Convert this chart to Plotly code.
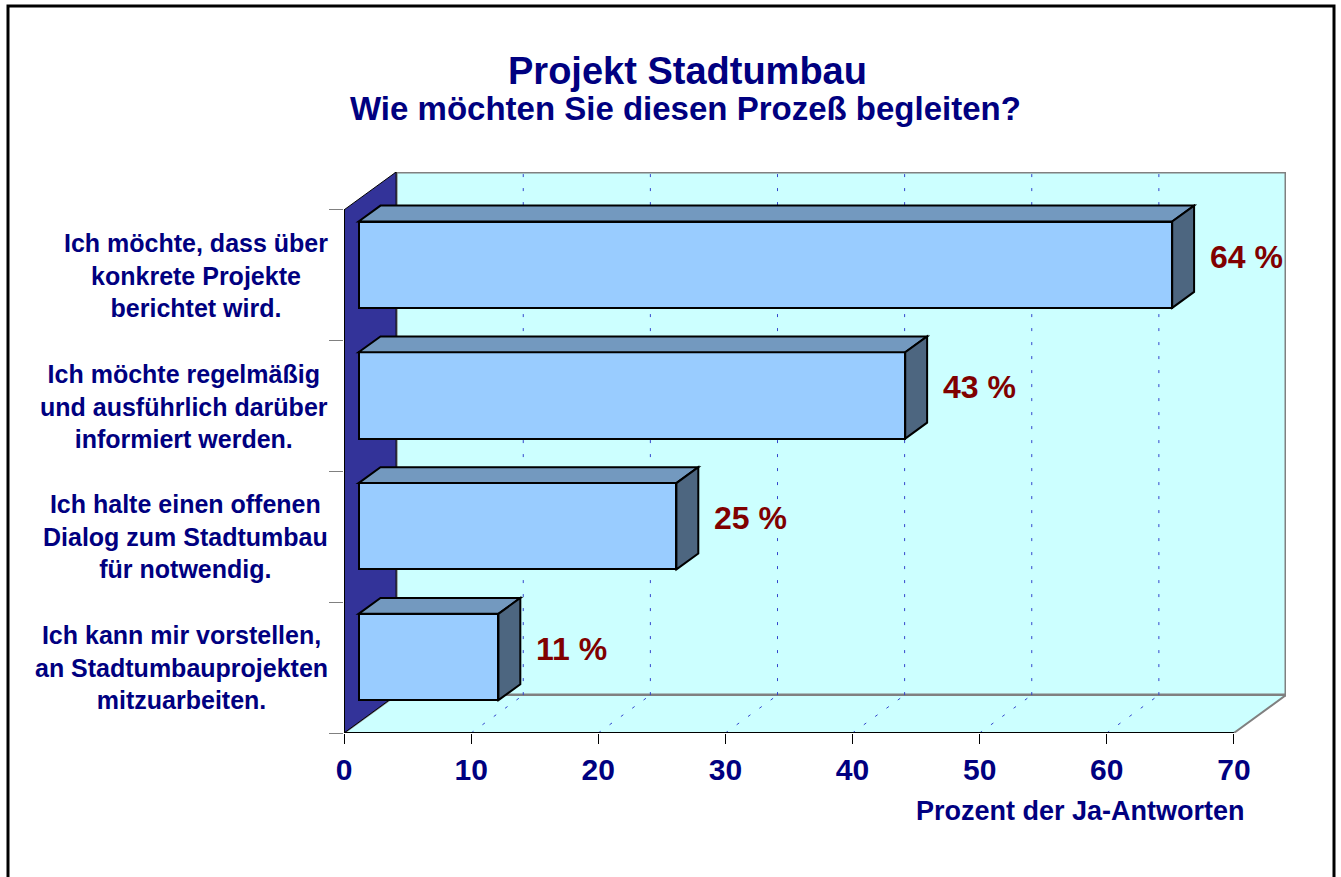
import plotly.graph_objects as go

# Survey answers, listed bottom to top
categories = [
    "Ich kann mir vorstellen,<br>an Stadtumbauprojekten<br>mitzuarbeiten.",
    "Ich halte einen offenen<br>Dialog zum Stadtumbau<br>für notwendig.",
    "Ich möchte regelmäßig<br>und ausführlich darüber<br>informiert werden.",
    "Ich möchte, dass über<br>konkrete Projekte<br>berichtet wird.",
]
values = [11, 25, 43, 64]
x_ticks = [0, 10, 20, 30, 40, 50, 60, 70]

title = "Projekt Stadtumbau"
subtitle = "Wie möchten Sie diesen Prozeß begleiten?"
x_title = "Prozent der Ja-Antworten"

# pseudo-3D geometry (depth offset of the back plane, in axis units)
X_MAX = 70
DX, DY = 4.1, 0.29
F1, F2 = 0.28, 0.70       # front / back depth fraction of the bars
BAR_W = 0.66

NAVY = "#000080"
DARK_RED = "#800000"
WALL = "#CCFFFF"
SIDE_WALL = "#333399"
EDGE = "#808080"
BAR_FRONT = "#99CCFF"
BAR_TOP = "#7399BF"
BAR_SIDE = "#4D6680"
GRID = "#3344CC"
FONT = "Arial, Liberation Sans, sans-serif"

W, H = 1341, 877
M_L, M_R, M_T, M_B = 344, 55, 172, 144
plot_w = W - M_L - M_R
plot_h = H - M_T - M_B


def px_x(px):
    return (px - M_L) / plot_w


def px_y(py):
    return (H - M_B - py) / plot_h


def path(points):
    return "M " + " L ".join(f"{x},{y}" for x, y in points) + " Z"


n = len(categories)
shapes = []

# back wall
shapes.append(dict(type="rect", xref="x", yref="y", layer="below",
                   x0=DX, x1=X_MAX + DX, y0=DY, y1=n + DY,
                   fillcolor=WALL, line=dict(color=EDGE, width=3)))
# floor
shapes.append(dict(type="path", xref="x", yref="y", layer="below",
                   path=path([(0, 0), (X_MAX, 0), (X_MAX + DX, DY), (DX, DY)]),
                   fillcolor=WALL, line=dict(color=EDGE, width=2)))
# left side wall
shapes.append(dict(type="path", xref="x", yref="y", layer="below",
                   path=path([(0, 0), (0, n), (DX, n + DY), (DX, DY)]),
                   fillcolor=SIDE_WALL, line=dict(color="#000000", width=1)))
# gridlines on the back wall and floor
for v in x_ticks[1:-1]:
    shapes.append(dict(type="line", xref="x", yref="y", layer="below",
                       x0=v + DX, x1=v + DX, y0=DY, y1=n + DY,
                       line=dict(color=GRID, width=1, dash="3px,11px")))
    shapes.append(dict(type="line", xref="x", yref="y", layer="below",
                       x0=v, x1=v + DX, y0=0, y1=DY,
                       line=dict(color=GRID, width=1, dash="3px,11px")))
# front axis lines
shapes.append(dict(type="line", xref="x", yref="y", layer="below",
                   x0=0, x1=X_MAX, y0=0, y1=0,
                   line=dict(color="#000000", width=2)))
shapes.append(dict(type="line", xref="x", yref="y", layer="below",
                   x0=0, x1=0, y0=0, y1=n,
                   line=dict(color="#000000", width=2)))

centers = [i + 0.5 for i in range(n)]

# top and side faces of each bar
for c, v in zip(centers, values):
    top = c + BAR_W / 2
    bot = c - BAR_W / 2
    shapes.append(dict(type="path", xref="x", yref="y", layer="above",
                       path=path([(F1 * DX, top + F1 * DY), (F2 * DX, top + F2 * DY),
                                  (v + F2 * DX, top + F2 * DY), (v + F1 * DX, top + F1 * DY)]),
                       fillcolor=BAR_TOP, line=dict(color="#000000", width=2)))
    shapes.append(dict(type="path", xref="x", yref="y", layer="above",
                       path=path([(v + F1 * DX, bot + F1 * DY), (v + F2 * DX, bot + F2 * DY),
                                  (v + F2 * DX, top + F2 * DY), (v + F1 * DX, top + F1 * DY)]),
                       fillcolor=BAR_SIDE, line=dict(color="#000000", width=2)))

# outer frame
shapes.append(dict(type="rect", xref="paper", yref="paper", layer="above",
                   x0=px_x(8), x1=px_x(1334), y0=px_y(6), y1=px_y(H + 10),
                   fillcolor="rgba(0,0,0,0)", line=dict(color="#000000", width=3)))

fig = go.Figure()
fig.add_trace(go.Bar(
    y=[c + F1 * DY for c in centers],
    x=values,
    base=[F1 * DX] * n,
    orientation="h",
    width=BAR_W,
    marker=dict(color=BAR_FRONT, line=dict(color="#000000", width=2)),
    hoverinfo="skip",
))

annotations = []
# value labels
for c, v in zip(centers, values):
    annotations.append(dict(xref="x", yref="y", x=v + F2 * DX, y=c + (F1 + F2) / 2 * DY,
                            xanchor="left", yanchor="middle", xshift=14, showarrow=False,
                            text=f"{v} %",
                            font=dict(family=FONT, size=32, color=DARK_RED, weight="bold")))
# category labels
for c, label in zip(centers, categories):
    annotations.append(dict(xref="x", yref="y", x=0, y=c, xanchor="right", yanchor="middle",
                            xshift=-14, showarrow=False, align="center", text=label,
                            font=dict(family=FONT, size=25, color=NAVY, weight="bold")))
# titles
annotations.append(dict(xref="paper", yref="paper", x=px_x(687), y=px_y(71),
                        xanchor="center", yanchor="middle", showarrow=False, text=title,
                        font=dict(family=FONT, size=38, color=NAVY, weight="bold")))
annotations.append(dict(xref="paper", yref="paper", x=px_x(685), y=px_y(108),
                        xanchor="center", yanchor="middle", showarrow=False, text=subtitle,
                        font=dict(family=FONT, size=33, color=NAVY, weight="bold")))
annotations.append(dict(xref="paper", yref="paper", x=px_x(1080), y=px_y(811),
                        xanchor="center", yanchor="middle", showarrow=False, text=x_title,
                        font=dict(family=FONT, size=27, color=NAVY, weight="bold")))

fig.update_layout(
    width=W, height=H, autosize=False,
    margin=dict(l=M_L, r=M_R, t=M_T, b=M_B),
    paper_bgcolor="#FFFFFF", plot_bgcolor="rgba(0,0,0,0)",
    showlegend=False,
    shapes=shapes,
    annotations=annotations,
    bargap=0,
    xaxis=dict(range=[0, X_MAX + DX], tickvals=x_ticks, ticks="outside", ticklen=10,
               tickwidth=1, tickcolor="#000000", showgrid=False, zeroline=False,
               showline=False, fixedrange=True,
               tickfont=dict(family=FONT, size=30, color=NAVY, weight="bold")),
    yaxis=dict(range=[0, n + DY], tickvals=list(range(n + 1)), ticks="outside", ticklen=14,
               tickwidth=1, tickcolor=EDGE, showticklabels=False, showgrid=False,
               zeroline=False, showline=False, fixedrange=True),
)

fig.write_html("out.html")
